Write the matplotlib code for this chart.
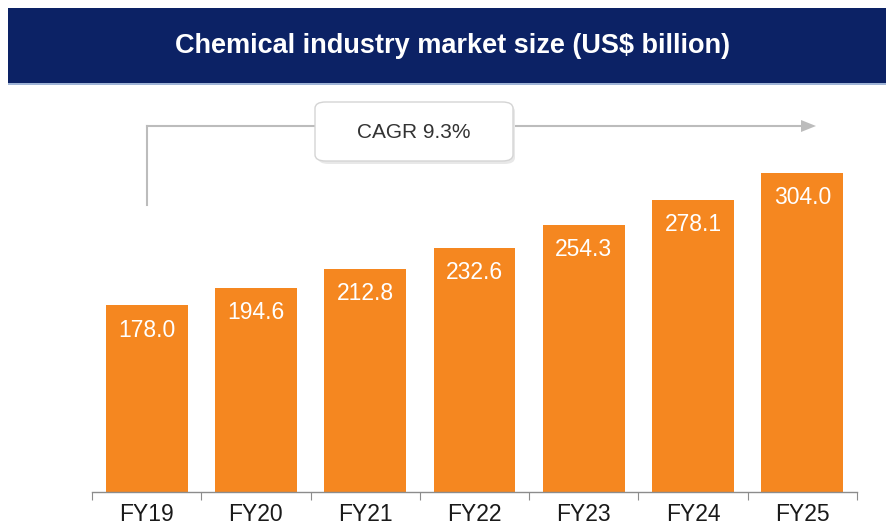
import matplotlib
matplotlib.use("Agg")
import matplotlib.pyplot as plt
from matplotlib.patches import Rectangle, FancyBboxPatch
from matplotlib.lines import Line2D

categories = ["FY19", "FY20", "FY21", "FY22", "FY23", "FY24", "FY25"]
values = [178.0, 194.6, 212.8, 232.6, 254.3, 278.1, 304.0]
title = "Chemical industry market size (US$ billion)"
cagr_label = "CAGR 9.3%"

W, H = 886, 529
plt.rcParams['font.family'] = ['Liberation Sans', 'DejaVu Sans']
fig = plt.figure(figsize=(W / 100, H / 100), dpi=100)
fig.patch.set_facecolor('white')

def fx(px):
    return px / W

def fy(py):
    return 1 - py / H

# header band
fig.patches.append(Rectangle((fx(8), fy(83)), fx(W) - fx(8), fy(8) - fy(83),
                             transform=fig.transFigure, facecolor='#0c2265',
                             edgecolor='none', zorder=0))
fig.patches.append(Rectangle((fx(8), fy(85)), fx(W) - fx(8), fy(83) - fy(85),
                             transform=fig.transFigure, facecolor='#9fb4d6',
                             edgecolor='none', zorder=0))
fig.text(fx(453), fy(46), title, color='white', fontsize=19.5, fontweight='bold',
         ha='center', va='center')

# axes
left, right, bottom, top = 92, 857, 492, 100
ax = fig.add_axes([fx(left), fy(bottom), fx(right) - fx(left), fy(top) - fy(bottom)])
ax.set_xlim(-0.5, len(categories) - 0.5)
ymax = (bottom - top) / 1.05
ax.set_ylim(0, ymax)
x = list(range(len(categories)))
bars = ax.bar(x, values, width=0.75, color='#f58720', edgecolor='none', zorder=2)
for xi, v in zip(x, values):
    ax.annotate(f"{v:.1f}", (xi, v), xytext=(0, -18), textcoords='offset points',
                ha='center', va='center', color='white', fontsize=16.5)

for s in ['top', 'right', 'left']:
    ax.spines[s].set_visible(False)
ax.spines['bottom'].set_color('#8c8c8c')
ax.spines['bottom'].set_linewidth(1.0)
ax.set_yticks([])
ax.set_xticks([i - 0.5 for i in range(len(categories) + 1)])
ax.set_xticklabels([])
ax.set_xticks(x, minor=True)
ax.set_xticklabels(categories, minor=True)
ax.tick_params(axis='x', which='major', length=6, color='#8c8c8c', direction='out')
ax.tick_params(axis='x', which='minor', length=0, pad=8, labelsize=16.5, labelcolor='#1a1a1a')
ax.patch.set_alpha(0)

# CAGR arrow
gray = '#bcbcbc'
fig.add_artist(Line2D([fx(147), fx(147)], [fy(205), fy(126)], transform=fig.transFigure,
                      color=gray, lw=1.5))
fig.add_artist(Line2D([fx(147), fx(803)], [fy(126), fy(126)], transform=fig.transFigure,
                      color=gray, lw=1.5))
fig.patches.append(plt.Polygon([[fx(801), fy(120)], [fx(816), fy(126)], [fx(801), fy(132)]],
                               closed=True, transform=fig.transFigure, facecolor=gray,
                               edgecolor='none'))
# shadow
fig.patches.append(FancyBboxPatch((fx(318), fy(164)), fx(515) - fx(318), fy(103) - fy(162),
                                  boxstyle="round,pad=0,rounding_size=0.012",
                                  transform=fig.transFigure, facecolor='#e8e8e8',
                                  edgecolor='none', zorder=3))
fig.patches.append(FancyBboxPatch((fx(315), fy(161)), fx(513) - fx(315), fy(102) - fy(161),
                                  boxstyle="round,pad=0,rounding_size=0.012",
                                  transform=fig.transFigure, facecolor='white',
                                  edgecolor='#d4d4d4', lw=1.0, zorder=4))
fig.text(fx(414), fy(133), cagr_label, color='#333333', fontsize=15,
         ha='center', va='center', zorder=5)

fig.savefig('out.png', dpi=100)
